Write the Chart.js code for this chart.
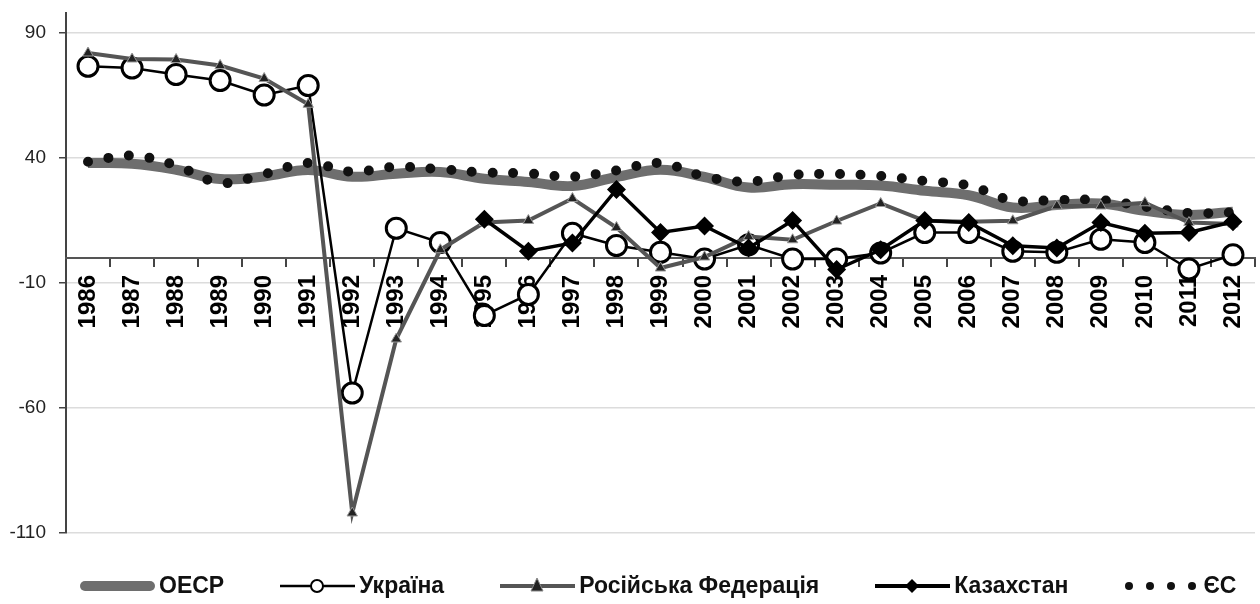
<!DOCTYPE html>
<html lang="uk">
<head>
<meta charset="UTF-8">
<title>Темпи зростання</title>
<script src="https://cdn.jsdelivr.net/npm/chart.js@4.4.0/dist/chart.umd.min.js"></script>
<style>
  body {
    margin: 0;
    background: #fff;
    overflow: hidden;
    font-family: 'Liberation Sans', Arial, sans-serif;
  }
  #wrap {
    position: relative;
    width: 1268px;
    height: 604px;
  }
  #legend {
    position: absolute;
    top: 572px;
    left: 80px;
    width: max-content;
    display: flex;
    align-items: center;
    white-space: nowrap;
    font-size: 23px;
    font-weight: bold;
    color: #111;
  }
  .item { display: flex; align-items: center; flex-shrink: 0; margin-right: 56px; }
  .item svg { margin-right: 4px; flex-shrink: 0; }
</style>
</head>
<body>
<div id="wrap">
  <canvas id="chart" width="1268" height="604"></canvas>
  <!-- легенда -->
  <div id="legend">
    <div class="item">
      <svg width="75" height="26"><line x1="5" y1="13" x2="70" y2="13" stroke="#6e6e6e" stroke-width="10" stroke-linecap="round"/></svg>
      <span>OECP</span>
    </div>
    <div class="item">
      <svg width="75" height="26"><line x1="0" y1="13" x2="75" y2="13" stroke="#000" stroke-width="2.5"/><circle cx="37" cy="13" r="6" fill="#fff" stroke="#000" stroke-width="2"/></svg>
      <span>Україна</span>
    </div>
    <div class="item">
      <svg width="75" height="26"><line x1="0" y1="13" x2="75" y2="13" stroke="#555" stroke-width="4"/><polygon points="37,5 43,18 31,18" fill="#222" stroke="#888" stroke-width="1"/></svg>
      <span>Російська Федерація</span>
    </div>
    <div class="item">
      <svg width="75" height="26"><line x1="0" y1="13" x2="75" y2="13" stroke="#000" stroke-width="4"/><polygon points="37,6 44,13 37,20 30,13" fill="#000"/></svg>
      <span>Казахстан</span>
    </div>
    <div class="item">
      <svg width="75" height="26"><circle cx="5" cy="13" r="4" fill="#111"/><circle cx="26" cy="13" r="4" fill="#111"/><circle cx="47" cy="13" r="4" fill="#111"/><circle cx="68" cy="13" r="4" fill="#111"/></svg>
      <span>ЄС</span>
    </div>
  </div>
</div>

<script>
// роки
const years = ['1986', '1987', '1988', '1989', '1990', '1991', '1992', '1993', '1994', '1995',
  '1996', '1997', '1998', '1999', '2000', '2001', '2002', '2003', '2004', '2005',
  '2006', '2007', '2008', '2009', '2010', '2011', '2012'];

const oecd = [38, 37.7, 35.3, 31.6, 32.6, 35.2, 32.5, 33.7, 34.4, 31.7, 30.4, 28.8, 32.4, 35.3,
  32.4, 28.2, 29.5, 29.3, 29, 26.9, 25.1, 20.2, 21.2, 21.8, 18.9, 17.2, 18.5];

const ukraine = [76.7, 76, 73.4, 71, 65.2, 69, -54, 11.9, 6.2, -23, -14.6, 9.9, 5, 2.3,
  -0.4, 5.3, -0.4, -0.4, 2, 10.2, 10.2, 2.7, 2.3, 7.5, 6.2, -4.4, 1.3];

const russia = [82, 79.6, 79.4, 77, 71.8, 61.5, -102, -32.4, 3.3, 14.2, 15, 23.8, 12.2, -4,
  0.4, 8.6, 7.3, 14.8, 21.8, 14.9, 14.5, 14.9, 20.8, 20.8, 22.1, 14.2, 13.6];

const kazakhstan = [null, null, null, null, null, null, null, null, null, 15.5, 2.7, 6, 27.4, 10.2,
  12.8, 4, 15, -4.6, 3.3, 15, 14.2, 4.9, 4, 14.2, 9.9, 10.2, 14.5];

const eu = [38.5, 41, 37, 30, 33.5, 38, 34.5, 36.5, 35.5, 34.2, 33.8, 32.5, 35, 38,
  32.6, 30.5, 33.2, 33.6, 32.8, 30.8, 29, 23, 23.2, 23.2, 20.5, 18, 18.2];

const yTicks = [-110, -60, -10, 40, 90];

const ctx = document.getElementById('chart').getContext('2d');
const chart = new Chart(ctx, {
  type: 'line',
  data: {
    labels: years,
    datasets: [
      {
        label: 'OECP',
        data: oecd,
        borderColor: '#6e6e6e',
        borderWidth: 10,
        pointRadius: 0,
        tension: 0.4,
        order: 5
      },
      {
        label: 'ЄС',
        data: eu,
        borderColor: '#111',
        borderWidth: 10,
        borderDash: [0, 20.7],
        borderCapStyle: 'round',
        pointRadius: 0,
        tension: 0.35,
        order: 4
      },
      {
        label: 'Україна',
        data: ukraine,
        borderColor: '#000',
        borderWidth: 2.5,
        pointRadius: 10,
        pointBorderWidth: 3,
        pointBackgroundColor: '#fff',
        pointBorderColor: '#000',
        tension: 0,
        order: 3
      },
      {
        label: 'Російська Федерація',
        data: russia,
        borderColor: '#555',
        borderWidth: 4,
        pointStyle: 'triangle',
        pointRadius: 6,
        pointBackgroundColor: '#222',
        pointBorderColor: '#999',
        pointBorderWidth: 1,
        tension: 0,
        order: 2
      },
      {
        label: 'Казахстан',
        data: kazakhstan,
        borderColor: '#000',
        borderWidth: 3.5,
        pointStyle: 'rectRot',
        pointRadius: 7,
        pointBackgroundColor: '#000',
        pointBorderColor: '#000',
        tension: 0,
        order: 1
      }
    ]
  },
  options: {
    responsive: false,
    animation: false,
    events: [],
    layout: { padding: { top: 7, bottom: 71, left: 0, right: 0 } },
    plugins: {
      legend: { display: false },
      tooltip: { enabled: false }
    },
    scales: {
      y: {
        min: -110,
        max: 98,
        afterBuildTicks: scale => { scale.ticks = yTicks.map(v => ({ value: v })); },
        afterFit: scale => {
          scale.width = 66;
          scale.paddingTop = 0;
          scale.paddingBottom = 0;
        },
        grid: { color: '#dcdcdc', lineWidth: 1.5, tickLength: 7, tickColor: '#444' },
        border: { color: '#444', width: 2 },
        ticks: {
          padding: 13,
          color: '#222',
          font: { family: 'Liberation Sans', size: 19 }
        }
      },
      x: {
        position: { y: 0 },
        offset: true,
        afterFit: scale => {
          scale.paddingLeft = 0;
          scale.paddingRight = 0;
        },
        grid: { drawOnChartArea: false, offset: true, tickLength: 8, tickColor: '#444', lineWidth: 2 },
        border: { color: '#555', width: 2 },
        ticks: {
          autoSkip: false,
          minRotation: 90,
          maxRotation: 90,
          padding: 9,
          color: '#000',
          font: { family: 'Liberation Sans', size: 24, weight: 'bold' }
        }
      }
    }
  }
});
</script>
</body>
</html>
